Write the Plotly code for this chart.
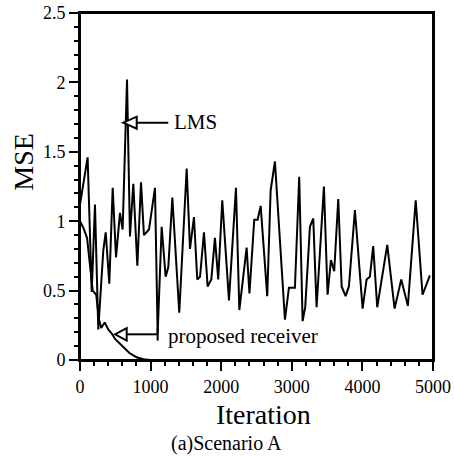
import plotly.graph_objects as go

# LMS learning curve
lms_iter = [0, 108, 166, 212, 259, 330, 364, 415, 463, 510, 566, 604, 666, 708,
            755, 812, 864, 906, 977, 1062, 1100, 1157, 1213, 1251, 1308, 1406,
            1511, 1558, 1614, 1661, 1700, 1756, 1808, 1860, 1911, 1958, 2015,
            2110, 2209, 2257, 2360, 2400, 2468, 2516, 2559, 2652, 2700, 2761,
            2903, 2959, 3044, 3105, 3153, 3190, 3257, 3304, 3351, 3455, 3507,
            3554, 3601, 3658, 3706, 3762, 3809, 3894, 4003, 4059, 4106, 4153,
            4210, 4352, 4456, 4550, 4644, 4755, 4852, 4956]
lms_mse = [1.12, 1.46, 0.49, 1.12, 0.22, 0.79, 0.92, 0.55, 1.24, 0.74, 1.06, 0.94,
           2.02, 0.89, 1.27, 0.68, 1.28, 0.90, 0.94, 1.24, 0.19, 0.96, 0.60, 0.67,
           1.17, 0.34, 1.38, 0.80, 1.03, 0.58, 0.60, 0.92, 0.53, 0.58, 0.88, 0.58,
           1.15, 0.43, 1.24, 0.36, 0.81, 0.48, 1.01, 1.01, 1.11, 0.46, 1.22, 1.43,
           0.29, 0.52, 0.52, 1.32, 0.28, 0.38, 0.96, 1.02, 0.38, 1.25, 0.47, 0.72,
           0.64, 1.16, 0.53, 0.46, 0.53, 1.08, 0.37, 0.58, 0.60, 0.82, 0.38, 0.83,
           0.37, 0.58, 0.39, 1.15, 0.47, 0.61]

# proposed receiver learning curve
prop_iter = [0, 50, 100, 140, 180, 230, 265, 300, 350, 400, 450, 500, 600, 700,
             800, 900, 1000, 2000, 3000, 4000, 5000]
prop_mse = [1.0, 0.95, 0.88, 0.70, 0.50, 0.47, 0.30, 0.23, 0.27, 0.22, 0.19, 0.15,
            0.10, 0.05, 0.02, 0.005, 0.0, 0.0, 0.0, 0.0, 0.0]

x_ticks = [0, 1000, 2000, 3000, 4000, 5000]
y_ticks = [0, 0.5, 1, 1.5, 2, 2.5]
y_labels = ["0", "0.5", "1", "1.5", "2", "2.5"]

FONT = "Liberation Serif"

fig = go.Figure()
fig.add_trace(go.Scatter(x=lms_iter, y=lms_mse, mode="lines", name="LMS",
                         line=dict(color="black", width=2)))
fig.add_trace(go.Scatter(x=prop_iter, y=prop_mse, mode="lines", name="proposed receiver",
                         line=dict(color="black", width=2)))

# callout arrows with open heads
def callout(tip_x, tip_y, base_x, tail_x, half_h, bar=False):
    fig.add_shape(type="path",
                  path=f"M {tip_x},{tip_y} L {base_x},{tip_y + half_h} L {base_x},{tip_y - half_h} Z",
                  line=dict(color="black", width=2), fillcolor="white", layer="above")
    fig.add_shape(type="line", x0=base_x, y0=tip_y, x1=tail_x, y1=tip_y,
                  line=dict(color="black", width=2))
    if bar:
        fig.add_shape(type="line", x0=tail_x, y0=tip_y - half_h, x1=tail_x, y1=tip_y + half_h,
                      line=dict(color="black", width=2))

callout(614, 1.71, 803, 1250, 0.043)
callout(496, 0.185, 661, 1100, 0.045, bar=True)

# box around the plot
fig.add_shape(type="rect", xref="paper", yref="paper", x0=0, y0=0, x1=1, y1=1,
              line=dict(color="black", width=2), layer="above")

fig.add_annotation(x=1300, y=1.715, text="LMS", showarrow=False, xanchor="left",
                   yanchor="middle", font=dict(family=FONT, size=21, color="black"))
fig.add_annotation(x=1225, y=0.175, text="proposed receiver", showarrow=False,
                   xanchor="left", yanchor="middle",
                   font=dict(family=FONT, size=21, color="black"))

fig.add_annotation(xref="paper", yref="paper", x=0.52, y=-0.158, text="Iteration",
                   showarrow=False, xanchor="center", yanchor="middle",
                   font=dict(family=FONT, size=28, color="black"))
fig.add_annotation(xref="paper", yref="paper", x=0.415, y=-0.24, text="(a)Scenario A",
                   showarrow=False, xanchor="center", yanchor="middle",
                   font=dict(family=FONT, size=20, color="black"))
fig.add_annotation(xref="paper", yref="paper", x=-0.159, y=0.571, text="MSE",
                   showarrow=False, textangle=-90, xanchor="center", yanchor="middle",
                   font=dict(family=FONT, size=28, color="black"))

axis_common = dict(showgrid=False, zeroline=False, showline=True, linecolor="black",
                   linewidth=2, mirror=True, ticks="outside", ticklen=9, tickwidth=2,
                   tickcolor="black", automargin=False, ticklabeloverflow="allow",
                   tickfont=dict(family=FONT, size=18, color="black"))

fig.update_xaxes(range=[0, 5000], tickvals=x_ticks,
                 minor=dict(dtick=200, ticks="outside", ticklen=4, tickwidth=1.5,
                            tickcolor="black"),
                 **axis_common)
fig.update_yaxes(range=[0, 2.5], tickvals=y_ticks, ticktext=y_labels,
                 minor=dict(dtick=0.1, ticks="outside", ticklen=4, tickwidth=1.5,
                            tickcolor="black"),
                 **axis_common)

fig.update_layout(width=454, height=456, showlegend=False,
                  margin=dict(l=80, r=21, t=13, b=96, autoexpand=False),
                  plot_bgcolor="white", paper_bgcolor="white",
                  font=dict(family=FONT, color="black"))

# drop the default body margin so the figure fills the window
fig.write_html("out.html", config={"displayModeBar": False},
               post_script="document.body.style.margin='0';")
